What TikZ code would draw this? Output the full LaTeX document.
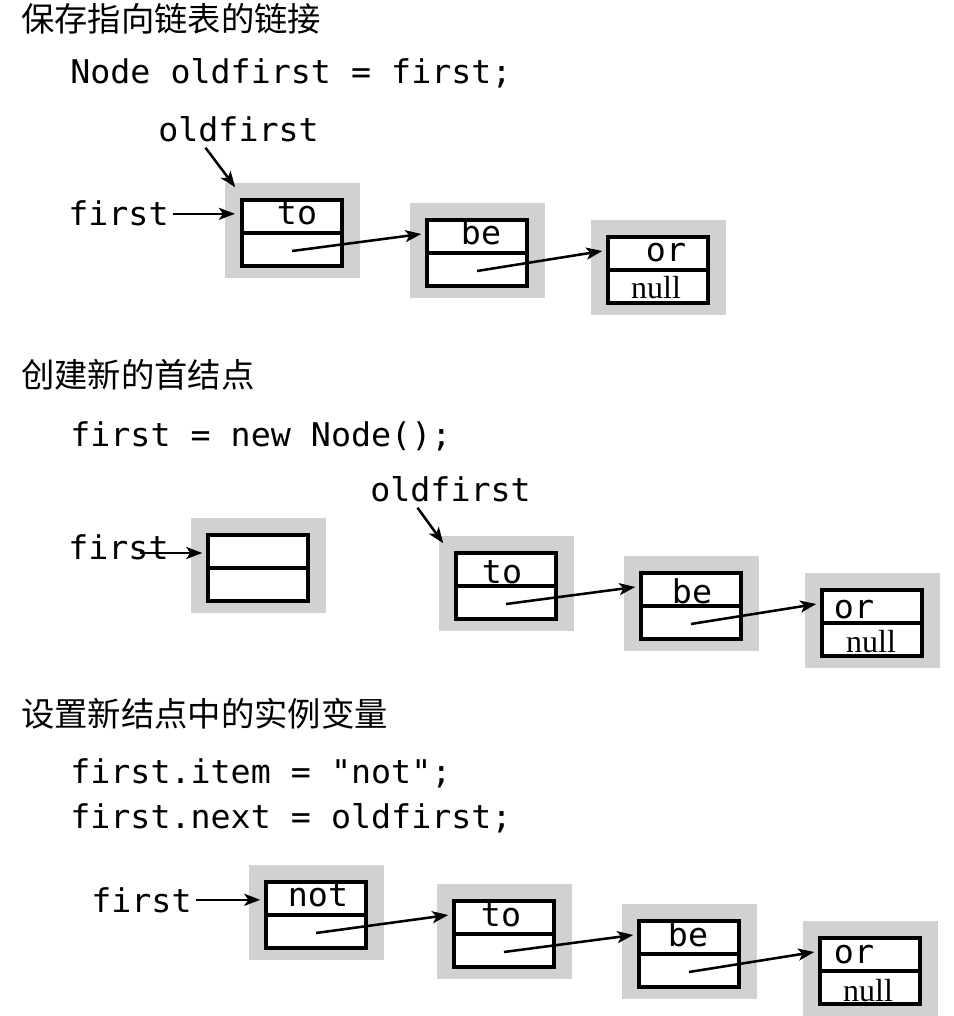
\documentclass[tikz,border=0pt]{standalone}
\usepackage{fontspec}
\newfontfamily\cjk{Noto Sans CJK SC}
\newfontfamily\codefont[FakeStretch=1.02]{DejaVu Sans Mono}
\newfontfamily\seriffont{Liberation Serif}
\usetikzlibrary{arrows.meta,calc}
\definecolor{boxgray}{RGB}{209,209,209}
\tikzset{
  title/.style={anchor=base west, inner sep=0, font=\cjk\fontsize{25pt}{25pt}\selectfont},
  codetext/.style={anchor=base west, inner sep=0, font=\codefont\fontsize{24.5pt}{24.5pt}\selectfont},
  lbl/.style={anchor=base, inner sep=0, font=\codefont\fontsize{24.5pt}{24.5pt}\selectfont},
  nulllbl/.style={anchor=base, inner sep=0, font=\seriffont\fontsize{24pt}{24pt}\selectfont},
  cell/.style={draw, line width=2.6pt, fill=white, minimum width=75pt, minimum height=49.5pt, inner sep=0},
  divider/.style={line width=2.6pt},
  ptr/.style={line width=1.9pt, -{Stealth[length=12pt,width=9pt,inset=3pt]}},
}
\newcommand\listbox[3]{%
  \fill[boxgray] (#2-17,#3-17) rectangle (#2+118,#3+78);
  \node[cell] (#1) at (#2+50,#3+33) {};
  \draw[divider] (#1.west) -- (#1.east);
}
\begin{document}
\begin{tikzpicture}[x=0.75pt,y=-0.75pt]
\useasboundingbox (0,0) rectangle (953,1016);

% ---------- section 1 ----------
\node[title] (t1) at (21,32) {保存指向链表的链接};
\node[codetext] (c1) at (70,84) {Node oldfirst = first;};
\node[codetext] (o1) at (158,142) {oldfirst};
\node[codetext] (f1) at (68,226) {first};
\listbox{s1a}{242}{200}
\listbox{s1b}{427}{220}
\listbox{s1c}{608}{237}
\node[lbl] (s1at) at (297,224) {to};
\node[lbl] (s1bt) at (481,244) {be};
\node[lbl] (s1ct) at (666,262) {or};
\node[nulllbl] (s1cn) at (656,298) {null};
\draw[ptr] ([shift={(-33,5)}]o1.south) -- ([shift={(-5,-11)}]s1a.north west);
\draw[ptr, shorten <=3pt, shorten >=4pt] (f1.east) -- (f1.east -| s1a.west);
\draw[ptr] ([shift={(0,18)}]s1a.center) -- ([shift={(-4,-19)}]s1b.west);
\draw[ptr] ([shift={(0,18)}]s1b.center) -- ([shift={(-4,-19)}]s1c.west);

% ---------- section 2 ----------
\node[title] (t2) at (21,387) {创建新的首结点};
\node[codetext] (c2) at (70,446) {first = new Node();};
\node[codetext] (f2) at (68,559) {first};
\node[codetext] (o2) at (370,501) {oldfirst};
\listbox{s2n}{208}{535}
\listbox{s2a}{456}{553}
\listbox{s2b}{641}{573}
\listbox{s2c}{822}{590}
\node[lbl] (s2at) at (502,583) {to};
\node[lbl] (s2bt) at (692,603) {be};
\node[lbl] (s2ct) at (854,618) {or};
\node[nulllbl] (s2cn) at (871,652) {null};
\coordinate (f2s) at (140,553);
\draw[ptr, shorten >=3pt] (f2s) -- (f2s -| s2n.west);
\draw[ptr] ([shift={(-33,6)}]o2.south) -- ([shift={(-11,-8)}]s2a.north west);
\draw[ptr] ([shift={(0,18)}]s2a.center) -- ([shift={(-4,-19)}]s2b.west);
\draw[ptr] ([shift={(0,18)}]s2b.center) -- ([shift={(-4,-19)}]s2c.west);

% ---------- section 3 ----------
\node[title] (t3) at (21,726) {设置新结点中的实例变量};
\node[codetext] (c3) at (70,783) {first.item = "not";};
\node[codetext] (c4) at (70,828) {first.next = oldfirst;};
\node[codetext] (f3) at (91,912) {first};
\listbox{s3n}{266}{882}
\listbox{s3a}{454}{901}
\listbox{s3b}{639}{921}
\listbox{s3c}{820}{938}
\node[lbl] (s3nt) at (318,906) {not};
\node[lbl] (s3at) at (501,926) {to};
\node[lbl] (s3bt) at (688,946) {be};
\node[lbl] (s3ct) at (854,963) {or};
\node[nulllbl] (s3cn) at (868,1001) {null};
\draw[ptr, shorten <=3pt, shorten >=3pt] (f3.east) -- (f3.east -| s3n.west);
\draw[ptr] ([shift={(0,18)}]s3n.center) -- ([shift={(-4,-19)}]s3a.west);
\draw[ptr] ([shift={(0,18)}]s3a.center) -- ([shift={(-4,-19)}]s3b.west);
\draw[ptr] ([shift={(0,18)}]s3b.center) -- ([shift={(-4,-19)}]s3c.west);
\end{tikzpicture}
\end{document}
